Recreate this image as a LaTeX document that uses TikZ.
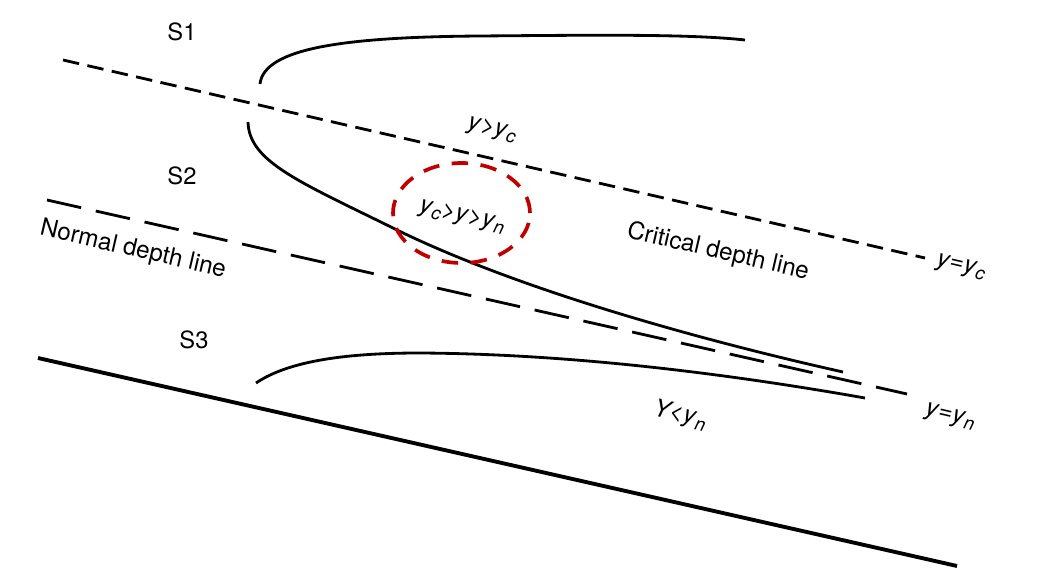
\documentclass[tikz,border=0pt]{standalone}
\usepackage{fontspec}
\setmainfont{TeX Gyre Heros}
\usetikzlibrary{shapes.geometric}
\newcommand{\vy}{\textit{y}}
\newcommand{\sub}[1]{\raisebox{-0.35ex}{\fontsize{10.5}{12}\selectfont\textit{#1}}}
\definecolor{ellred}{RGB}{192,0,0}
\begin{document}
\begin{tikzpicture}[x=0.02cm,y=-0.02cm,
  lbl/.style={font=\fontsize{13.5}{15}\selectfont, inner sep=0pt},
  rlbl/.style={font=\fontsize{13.8}{16}\selectfont, inner sep=0pt, rotate=-13},
  bedline/.style={line width=2.2pt},
  curve/.style={line width=1.6pt},
  critline/.style={line width=1.6pt, dash pattern=on 0.33cm off 0.17cm},
  normline/.style={line width=1.6pt, dash pattern=on 0.7cm off 0.3cm},
  ringline/.style={ellred, line width=2.1pt, dash pattern=on 0.33cm off 0.25cm}]
\useasboundingbox (0,0) rectangle (1055,584);
% channel bed
\coordinate (bedA) at (38,358);
\coordinate (bedB) at (957,566);
\draw[bedline] (bedA) -- (bedB);
% critical depth line
\coordinate (cA) at (63,60);
\coordinate (cB) at (925,258);
\draw[critline] (cA) -- (cB);
% normal depth line
\coordinate (nA) at (47,200);
\coordinate (nB) at (907,394);
\draw[normline] (nA) -- (nB);
% S1 profile
\coordinate (s1a) at (260,84);
\coordinate (s1m) at (480,36);
\coordinate (s1b) at (745,40);
\draw[curve] (s1a) .. controls (264,48) and (345,37) .. (s1m) .. controls (600,35) and (690,34) .. (s1b);
% S2 profile
\coordinate (s2a) at (248,122);
\coordinate (s2m) at (397,230);
\coordinate (s2b) at (843,372);
\draw[curve] (s2a) .. controls (249,162) and (300,182) .. (s2m) .. controls (520,290) and (700,340) .. (s2b);
% S3 profile
\coordinate (s3a) at (256,383);
\coordinate (s3m) at (420,353);
\coordinate (s3b) at (865,398);
\draw[curve] (s3a) .. controls (290,360) and (350,353) .. (s3m) .. controls (580,354) and (740,376) .. (s3b);
% highlight ring
\node[ringline, draw, ellipse, minimum width=2.74cm, minimum height=2cm, inner sep=0pt] (ring) at (461.5,213) {};
% labels
\node[lbl] (S1) at (182,32) {S1};
\node[lbl] (S2) at (182,176) {S2};
\node[lbl] (S3) at (194,340) {S3};
\node[rlbl] (ygc) at (492,130) {\vy>\vy\sub{c}};
\node[rlbl] (ymid) at (462,217) {\vy\sub{c}>\vy>\vy\sub{n}};
\node[rlbl] (crit) at (718,252) {Critical depth line};
\node[rlbl] (yeqc) at (961,267) {\vy=\vy\sub{c}};
\node[rlbl] (norm) at (133,250) {Normal depth line};
\node[rlbl] (ylsn) at (680,415) {\textit{Y}\kern-0.1em<\vy\sub{n}};
\node[rlbl] (yeqn) at (950,417) {\vy=\vy\sub{n}};
\end{tikzpicture}
\end{document}
